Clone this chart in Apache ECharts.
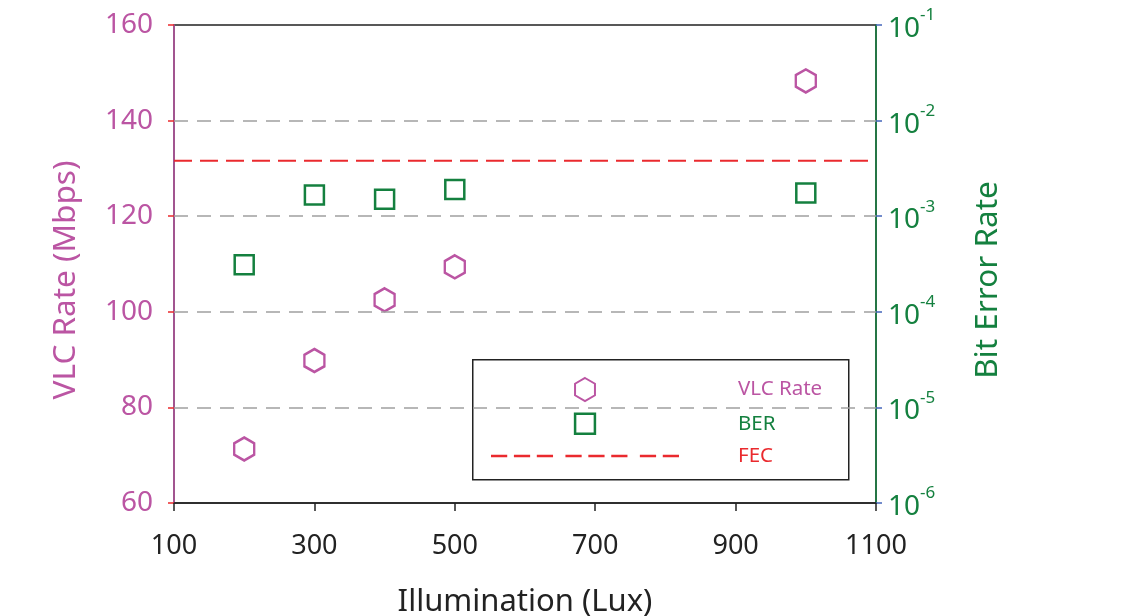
<!DOCTYPE html>
<html>
<head>
<meta charset="utf-8">
<script src="https://cdn.jsdelivr.net/npm/echarts@6/dist/echarts.min.js"></script>
<style>
html,body{margin:0;padding:0;background:#fff;}
#c{width:1143px;height:616px;}
</style>
</head>
<body>
<div id="c"></div>
<script>
// ---- data ----
var illumination = [200, 300, 400, 500, 1000];
var vlcRate = [71.3, 89.8, 102.5, 109.4, 148.3];
var berIllum = [200, 300, 400, 500, 1000];
var ber = [3.1e-4, 1.67e-3, 1.5e-3, 1.9e-3, 1.75e-3];
var fecLevel = 3.8e-3;
var xRange = [100, 1100];
var leftTicks = [60, 80, 100, 120, 140, 160];
var gridLineValues = [80, 100, 120, 140];
var berRange = [1e-6, 1e-1];

var PINK = '#bb55a3', GREEN = '#14803f', RED = '#ea2a2e', GRAY = '#a0a0a0';
var FONT = 'Noto Sans';
var hexPath = 'path://M0,-10L8.66,-5L8.66,5L0,10L-8.66,5L-8.66,-5Z';
var squareLegendPath = 'path://M-0.8,-0.8M0,0H10V10H0ZM10.8,10.8';
var dashIconPath = 'path://M0,0H17V2.4H0Z M24,0H41V2.4H24Z M48,0H65V2.4H48Z M78,0H95V2.4H78Z M102,0H119V2.4H102Z M126,0H143V2.4H126Z M156,0H173V2.4H156Z M180,0H197V2.4H180Z';

var chart = echarts.init(document.getElementById('c'), null, {renderer: 'canvas'});
chart.setOption({
  animation: false,
  backgroundColor: '#fff',
  textStyle: {fontFamily: FONT},
  grid: {left: 174, right: 267, top: 25, bottom: 113, containLabel: false, outerBoundsMode: 'none',
    show: true, borderColor: '#222', borderWidth: 1.5, backgroundColor: 'transparent'},
  xAxis: {
    type: 'value', min: xRange[0], max: xRange[1], interval: 200,
    name: 'Illumination (Lux)', nameLocation: 'middle', nameGap: 84,
    nameTextStyle: {fontSize: 31, color: '#222', fontFamily: FONT},
    axisLine: {lineStyle: {color: '#222', width: 1.5}},
    axisTick: {show: true, length: 8, lineStyle: {color: '#222', width: 1.5}},
    axisLabel: {fontSize: 27, color: '#222', margin: 30, fontFamily: FONT,
      formatter: function (v) { return String(v); }},
    splitLine: {show: false}
  },
  yAxis: [{
    type: 'value', min: leftTicks[0], max: leftTicks[leftTicks.length - 1], interval: 20,
    name: 'VLC Rate (Mbps)', nameLocation: 'middle', nameGap: 92,
    nameTextStyle: {fontSize: 31.5, color: PINK, fontFamily: FONT, padding: [0, 32, 0, 0]},
    axisLine: {show: true, lineStyle: {color: PINK, width: 1.5}},
    axisTick: {show: true, length: 6, lineStyle: {color: RED, width: 1.5}},
    axisLabel: {fontSize: 28, color: PINK, margin: 21, fontFamily: FONT},
    splitLine: {show: false}
  }, {
    type: 'log', logBase: 10, min: berRange[0], max: berRange[1], position: 'right',
    name: 'Bit Error Rate', nameLocation: 'middle', nameGap: 96,
    nameTextStyle: {fontSize: 31.5, color: GREEN, fontFamily: FONT, padding: [0, 32, 0, 0]},
    axisLine: {show: true, lineStyle: {color: GREEN, width: 1.5}},
    axisTick: {show: true, length: 6, lineStyle: {color: '#4466bb', width: 1.5}},
    axisLabel: {
      margin: 12,
      formatter: function (v) {
        var e = Math.round(Math.log10(v));
        return '{b|10}{s|' + e + '}';
      },
      rich: {
        b: {fontSize: 28, color: GREEN, fontFamily: FONT, verticalAlign: 'bottom', lineHeight: 36},
        s: {fontSize: 17, color: GREEN, fontFamily: FONT, verticalAlign: 'top', lineHeight: 36, padding: [0, 0, 14, 0]}
      }
    },
    splitLine: {show: false}
  }],
  legend: {
    orient: 'vertical', left: 486, top: 372, itemWidth: 188, itemHeight: 23, itemGap: 9,
    data: [
      {name: 'VLC Rate', icon: hexPath},
      {name: 'BER', icon: squareLegendPath, itemStyle: {borderWidth: 2.5}},
      {name: 'FEC', icon: dashIconPath, itemStyle: {color: RED, borderWidth: 0}}
    ],
    formatter: function (n) { return '{' + (n === 'VLC Rate' ? 'v' : n === 'BER' ? 'b' : 'f') + '|' + n + '}'; },
    textStyle: {
      fontFamily: FONT, fontSize: 20.5,
      rich: {
        v: {color: PINK, fontSize: 20.5, lineHeight: 23, fontFamily: FONT, padding: [0, 0, 0, 54]},
        b: {color: GREEN, fontSize: 20.5, lineHeight: 23, fontFamily: FONT, padding: [0, 0, 0, 54]},
        f: {color: RED, fontSize: 20.5, lineHeight: 23, fontFamily: FONT, padding: [0, 0, 0, 54]}
      }
    }
  },
  graphic: [{
    type: 'rect', left: 472, top: 359, z: 0,
    shape: {width: 376, height: 120},
    style: {fill: '#fff', stroke: '#222', lineWidth: 1.5}
  }],
  series: [{
    name: 'grid', type: 'line', data: [], yAxisIndex: 0, silent: true, z: 1,
    markLine: {
      silent: true, symbol: 'none', label: {show: false},
      lineStyle: {color: GRAY, type: [14, 9], width: 1.5},
      data: gridLineValues.map(function (v) { return {yAxis: v}; })
    }
  }, {
    name: 'FEC', type: 'line', yAxisIndex: 1, symbol: 'none', z: 2,
    data: [[xRange[0], fecLevel], [xRange[1], fecLevel]],
    lineStyle: {color: RED, type: [18, 8], width: 2.2},
    itemStyle: {color: RED}
  }, {
    name: 'VLC Rate', type: 'scatter', yAxisIndex: 0, z: 3,
    data: illumination.map(function (x, i) { return [x, vlcRate[i]]; }),
    symbol: hexPath, symbolSize: [20, 23],
    itemStyle: {color: '#fff', borderColor: PINK, borderWidth: 2.5, opacity: 1}
  }, {
    name: 'BER', type: 'scatter', yAxisIndex: 1, z: 3,
    data: berIllum.map(function (x, i) { return [x, ber[i]]; }),
    symbol: 'rect', symbolSize: 19,
    itemStyle: {color: '#fff', borderColor: GREEN, borderWidth: 2.5, opacity: 1}
  }]
});
</script>
</body>
</html>
